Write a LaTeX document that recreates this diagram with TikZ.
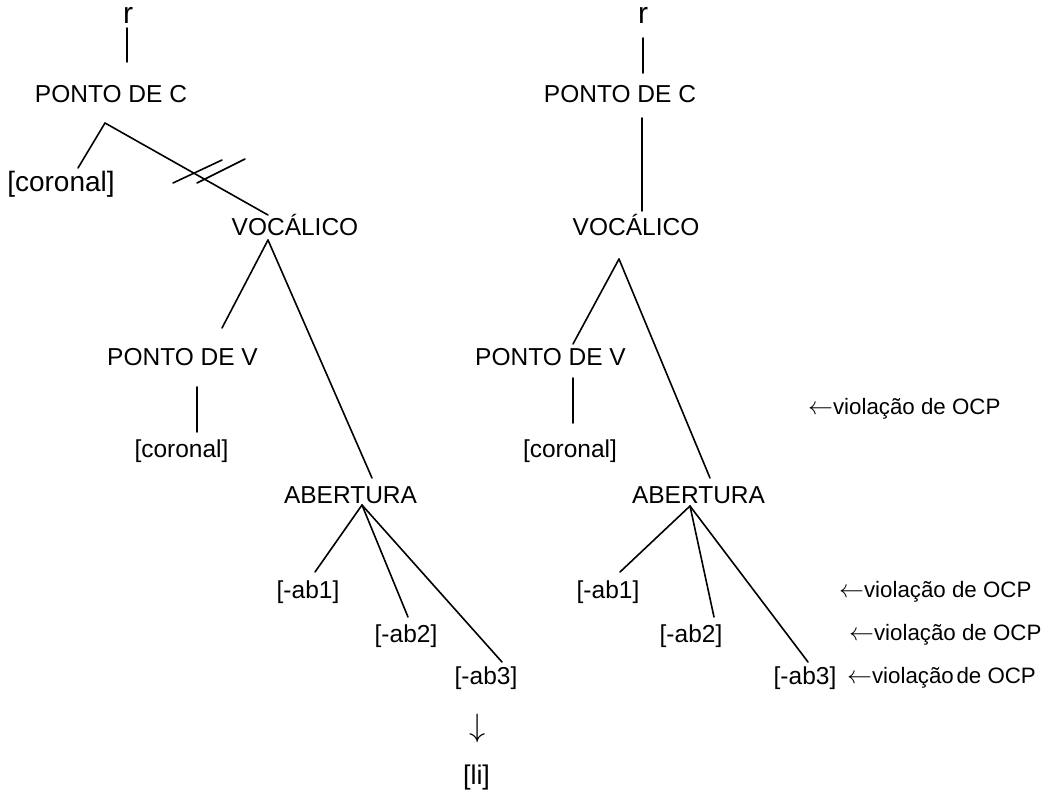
\documentclass[tikz,border=0pt]{standalone}
\usepackage{fontspec}
\setmainfont{Liberation Sans}
\newcommand{\lar}{{\fontsize{24}{28}\selectfont$\leftarrow$}}
\begin{document}
\begin{tikzpicture}[x=1pt,y=-1pt,
  lbl/.style={font=\fontsize{24.5}{29}\selectfont, inner sep=0pt, anchor=base},
  big/.style={lbl, font=\fontsize{28}{33}\selectfont},
  root/.style={lbl, font=\fontsize{30}{35}\selectfont},
  note/.style={font=\fontsize{22.3}{27}\selectfont, inner sep=0pt, anchor=base west},
  edge/.style={line width=1.6pt, line cap=round}]
\useasboundingbox (0,0) rectangle (1045,793);

% ---------- left tree ----------
\node[root] (rL)    at (128,23)  {r};
\node[lbl]  (pcL)   at (111,102) {PONTO DE C};
\node[big]  (corA)  at (61,191)  {[coronal]};
\node[lbl]  (vocL)  at (295,235) {VOCÁLICO};
\node[lbl]  (pvL)   at (182.5,365) {PONTO DE V};
\node[lbl]  (corB)  at (181.5,457) {[coronal]};
\node[lbl]  (abL)   at (350.5,503) {ABERTURA};
\node[lbl]  (ab1L)  at (308,598) {[-ab1]};
\node[lbl]  (ab2L)  at (406,642) {[-ab2]};
\node[lbl]  (ab3L)  at (486,684) {[-ab3]};
\node[font=\fontsize{24}{28}\selectfont, inner sep=0pt] (dn) at (478,728) {\scalebox{1.3}{$\downarrow$}};
\node[big, font=\fontsize{27}{32}\selectfont] (li) at (476.5,784) {[li]};

% attachment points of the left branches
\coordinate (rL-s)   at (127,28);
\coordinate (pcL-n)  at (127,62);
\coordinate (pcL-s)  at (105,123);
\coordinate (corA-n) at (78,168);
\coordinate (vocL-n) at (268,215);
\coordinate (vocL-s) at (268,240);
\coordinate (pvL-n)  at (222,328);
\coordinate (pvL-s)  at (197,387);
\coordinate (corB-n) at (197,432);
\coordinate (abL-n)  at (372,478);
\coordinate (abL-s)  at (362,505);
\coordinate (ab1L-n) at (315,572);
\coordinate (ab2L-n) at (408,617);
\coordinate (ab3L-n) at (502,662);
% delinking bars
\coordinate (cutA1) at (173,183); \coordinate (cutA2) at (222,160);
\coordinate (cutB1) at (197,183); \coordinate (cutB2) at (245,159);

\draw[edge] (rL-s) -- (pcL-n);
\draw[edge] (pcL-s) -- (corA-n);
\draw[edge] (pcL-s) -- (vocL-n);
\draw[edge] (cutA1) -- (cutA2);
\draw[edge] (cutB1) -- (cutB2);
\draw[edge] (vocL-s) -- (pvL-n);
\draw[edge] (vocL-s) -- (abL-n);
\draw[edge] (pvL-s) -- (corB-n);
\draw[edge] (abL-s) -- (ab1L-n);
\draw[edge] (abL-s) -- (ab2L-n);
\draw[edge] (abL-s) -- (ab3L-n);

% ---------- right tree ----------
\node[root] (rR)    at (643,23)  {r};
\node[lbl]  (pcR)   at (620,102) {PONTO DE C};
\node[lbl]  (vocR)  at (636,235) {VOCÁLICO};
\node[lbl]  (pvR)   at (550.5,365) {PONTO DE V};
\node[lbl]  (corR)  at (570,457) {[coronal]};
\node[lbl]  (abR)   at (698.5,503) {ABERTURA};
\node[lbl]  (ab1R)  at (608,598) {[-ab1]};
\node[lbl]  (ab2R)  at (691,642) {[-ab2]};
\node[lbl]  (ab3R)  at (805,684) {[-ab3]};

\coordinate (rR-s)   at (643,38);
\coordinate (pcR-n)  at (643,73);
\coordinate (pcR-s)  at (642,118);
\coordinate (vocR-n) at (642,211);
\coordinate (vocR-s) at (619,259);
\coordinate (pvR-n)  at (573,344);
\coordinate (pvR-s)  at (573,378);
\coordinate (corR-n) at (573,423);
\coordinate (abR-n)  at (710,478);
\coordinate (abR-s)  at (690,506);
\coordinate (ab1R-n) at (620,572);
\coordinate (ab2R-n) at (714,617);
\coordinate (ab3R-n) at (808,662);

\draw[edge] (rR-s) -- (pcR-n);
\draw[edge] (pcR-s) -- (vocR-n);
\draw[edge] (vocR-s) -- (pvR-n);
\draw[edge] (vocR-s) -- (abR-n);
\draw[edge] (pvR-s) -- (corR-n);
\draw[edge] (abR-s) -- (ab1R-n);
\draw[edge] (abR-s) -- (ab2R-n);
\draw[edge] (abR-s) -- (ab3R-n);

% ---------- OCP annotations ----------
\node[note] (ocp0) at (808,414) {\lar violação de OCP};
\node[note] (ocp1) at (839,597) {\lar violação de OCP};
\node[note] (ocp2) at (849,640) {\lar violação de OCP};
\node[note] (ocp3) at (847,683) {\lar violação\hspace{0.12em}de OCP};
\end{tikzpicture}
\end{document}
